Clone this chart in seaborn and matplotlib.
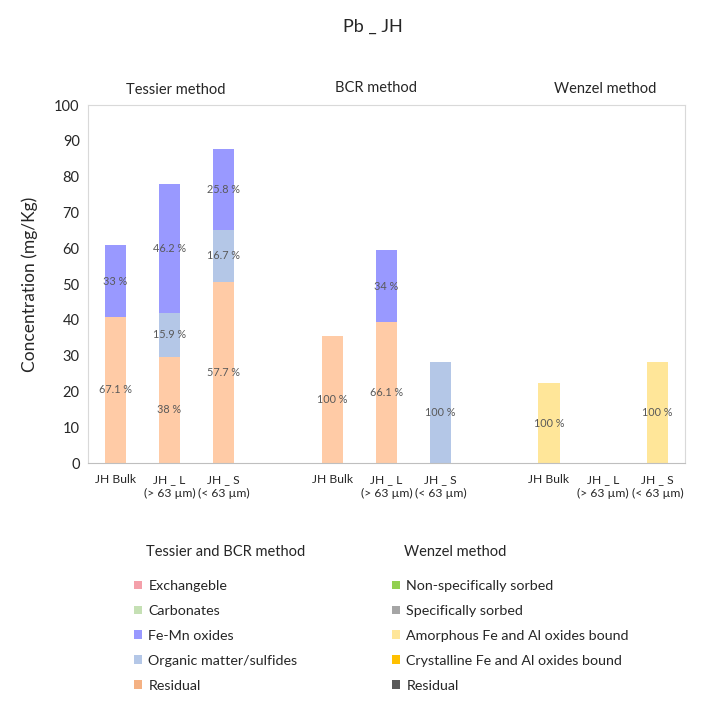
import matplotlib
matplotlib.use("Agg")
import matplotlib.pyplot as plt
from matplotlib.patches import Patch
import seaborn as sns
import pandas as pd
import numpy as np

# ---- data ----
slots = ["T_Bulk", "T_L", "T_S", "gap1", "B_Bulk", "B_L", "B_S", "gap2", "W_Bulk", "W_L", "W_S"]
samples = ["T_Bulk", "T_L", "T_S", "B_Bulk", "B_L", "B_S", "W_Bulk", "W_L", "W_S"]
tick_labels = ["JH Bulk", "JH _ L\n(> 63 µm)", "JH _ S\n(< 63 µm)", "",
               "JH Bulk", "JH _ L\n(> 63 µm)", "JH _ S\n(< 63 µm)", "",
               "JH Bulk", "JH _ L\n(> 63 µm)", "JH _ S\n(< 63 µm)"]
residual = [40.8, 29.7, 50.6, 35.6, 39.3, 0, 0, 0, 0]
organic = [0, 12.3, 14.5, 0, 0, 28.2, 0, 0, 0]
femn = [20.0, 36.0, 22.6, 0, 20.2, 0, 0, 0, 0]
amorphous = [0, 0, 0, 0, 0, 0, 22.3, 0, 28.3]
lbl_residual = ["67.1 %", "38 %", "57.7 %", "100 %", "66.1 %", "", "", "", ""]
lbl_organic = ["", "15.9 %", "16.7 %", "", "", "100 %", "", "", ""]
lbl_femn = ["33 %", "46.2 %", "25.8 %", "", "34 %", "", "", "", ""]
lbl_amorphous = ["", "", "", "", "", "", "100 %", "", "100 %"]

tessier_legend = ["Exchangeble", "Carbonates", "Fe-Mn oxides", "Organic matter/sulfides", "Residual"]
wenzel_legend = ["Non-specifically sorbed", "Specifically sorbed", "Amorphous Fe and Al oxides bound",
                 "Crystalline Fe and Al oxides bound", "Residual"]

# ---- styles ----
c_res, c_org, c_femn, c_amor = "#FFCBA6", "#B4C7E7", "#9999FF", "#FFE699"
tessier_colors = ["#F4A0AA", "#C5E0B4", "#9999FF", "#B4C7E7", "#F4B183"]
wenzel_colors = ["#92D050", "#A5A5A5", "#FFE699", "#FFC000", "#595959"]

sns.set_theme(style="white")
plt.rcParams["font.family"] = ["Lato", "DejaVu Sans"]
txt = "#262626"

fig = plt.figure(figsize=(7.12, 7.01), dpi=100)
ax = fig.add_axes([0.1236, 0.3395, 0.838, 0.5107])

df = pd.DataFrame({"sample": samples, "res": residual, "org": organic,
                   "femn": femn, "amor": amorphous})
df["c_org"] = df["res"] + df["org"]
df["c_femn"] = df["c_org"] + df["femn"]

for col, color in [("c_femn", c_femn), ("c_org", c_org), ("res", c_res), ("amor", c_amor)]:
    sns.barplot(data=df, x="sample", y=col, order=slots, color=color, width=0.39,
                saturation=1, ax=ax, errorbar=None, linewidth=0)

# labels
pos = {s: slots.index(s) for s in samples}
lkw = dict(ha="center", va="center", fontsize=7.8, color="#595959")
for i, s in enumerate(samples):
    x = pos[s]
    if lbl_residual[i]:
        ax.text(x, residual[i] / 2, lbl_residual[i], **lkw)
    if lbl_organic[i]:
        ax.text(x, residual[i] + organic[i] / 2, lbl_organic[i], **lkw)
    if lbl_femn[i]:
        ax.text(x, residual[i] + organic[i] + femn[i] / 2, lbl_femn[i], **lkw)
    if lbl_amorphous[i]:
        ax.text(x, amorphous[i] / 2, lbl_amorphous[i], **lkw)

ax.set_ylim(0, 100)
ax.set_yticks(np.arange(0, 101, 10))
ax.set_xlim(-0.5, 10.5)
ax.set_xticks(range(len(slots)))
ax.set_xticklabels(tick_labels, fontsize=8.7, color=txt, linespacing=1.35)
ax.tick_params(axis="y", labelsize=10.5, labelcolor=txt, length=0, pad=6)
ax.tick_params(axis="x", length=0, pad=8)
ax.set_xlabel("")
ax.set_ylabel("Concentration (mg/Kg)", fontsize=12.5, color=txt, labelpad=12)
for sp in ax.spines.values():
    sp.set_color("#D9D9D9")
    sp.set_linewidth(0.8)
ax.spines["bottom"].set_color("#BFBFBF")

fig.text(0.523, 0.962, "Pb _ JH", ha="center", va="center", fontsize=13, color=txt)
fig.text(0.247, 0.871, "Tessier method", ha="center", va="center", fontsize=10.5, color=txt)
fig.text(0.528, 0.874, "BCR method", ha="center", va="center", fontsize=10.5, color=txt)
fig.text(0.850, 0.873, "Wenzel method", ha="center", va="center", fontsize=10.5, color=txt)

# legends
fig.text(146 / 712, 1 - 552 / 701, "Tessier and BCR method", ha="left", va="center", fontsize=10.5, color=txt)
fig.text(404 / 712, 1 - 552 / 701, "Wenzel method", ha="left", va="center", fontsize=10.5, color=txt)
h1 = [Patch(facecolor=c, edgecolor="none") for c in tessier_colors]
h2 = [Patch(facecolor=c, edgecolor="none") for c in wenzel_colors]
kw = dict(loc="upper left", frameon=False, fontsize=10.3, handlelength=0.55, handleheight=0.55,
          handletextpad=0.45, labelspacing=0.9, borderaxespad=0, borderpad=0, labelcolor=txt)
fig.legend(h1, tessier_legend, bbox_to_anchor=(134 / 712, 1 - 580 / 701), **kw)
fig.legend(h2, wenzel_legend, bbox_to_anchor=(392 / 712, 1 - 580 / 701), **kw)

fig.savefig("out.png", dpi=100)
